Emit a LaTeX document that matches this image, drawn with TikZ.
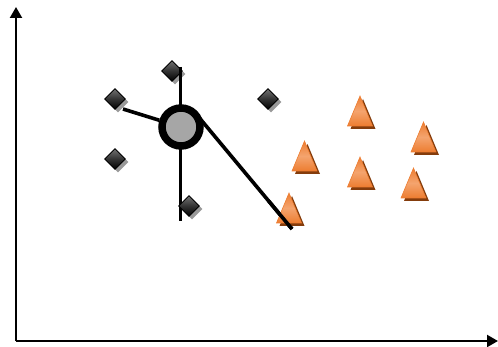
\documentclass[tikz,border=0pt]{standalone}
\usetikzlibrary{arrows.meta,shapes.geometric,shadows,calc}
\definecolor{coneor}{HTML}{ED7D31}
\definecolor{conelt}{HTML}{F4A46E}
\definecolor{conesh}{HTML}{843C0C}
\tikzset{
  axis/.style={line width=2.2pt,-{Triangle[length=11pt,width=12pt]}},
  link/.style={line width=3.6pt,black},
  gem/.style={diamond,draw=black,line width=0.9pt,minimum size=21pt,inner sep=0pt,
     top color=black!55,bottom color=black,middle color=black!80,
     drop shadow={shadow xshift=3pt,shadow yshift=-3pt,fill=black!40,opacity=1}},
  hub/.style={circle,draw=black,line width=7.5pt,fill=black!35,minimum size=38pt,inner sep=0pt,
     drop shadow={shadow xshift=2pt,shadow yshift=-3pt,fill=black!35,opacity=1}},
  cone/.pic={
    \fill[conesh] (-9.5,3) -- (15.5,3) -- (3,-27) -- cycle;
    \shade[top color=coneor,bottom color=coneor,middle color=conelt,draw=coneor,line width=0.6pt]
      (-12.5,0) -- (12.5,0) -- (0,-30) -- cycle;
  }
}
\begin{document}
\begin{tikzpicture}[x=1pt,y=-1pt]
\useasboundingbox (0,0) rectangle (498,347);
% axes
\coordinate (O) at (16,341);
\coordinate (ytop) at (16,7);
\coordinate (xend) at (498,341);
\draw[axis] (O) -- (ytop);
\draw[axis] (O) -- (xend);
% free ends of links
\coordinate (vtop) at (180.5,67);
\coordinate (vbot) at (180.5,221);
\coordinate (farend) at (292,229);
\coordinate (farstart) at (197,115);
\coordinate (d2e) at (123,109);
% diamonds
\node[gem] (d1) at (172,71) {};
\node[gem] (d2) at (115,99) {};
\node[gem] (d3) at (268,99) {};
\node[gem] (d4) at (115,159) {};
% links
\draw[link] (vtop) -- (vbot);
\node[hub] (hub) at (181,127) {};
\draw[link] (d2e) -- (hub);
\draw[link] (farstart) -- (farend);
\node[gem] (d5) at (189,206) {};
% cones
\pic at (360,126) {cone};
\pic at (423.5,152) {cone};
\pic at (304.5,171) {cone};
\pic at (360,187) {cone};
\pic at (413.5,198) {cone};
\pic at (289,223) {cone};
% far link segment over the last cone
\draw[link] ($(farstart)!0.75!(farend)$) -- (farend);
\end{tikzpicture}
\end{document}
